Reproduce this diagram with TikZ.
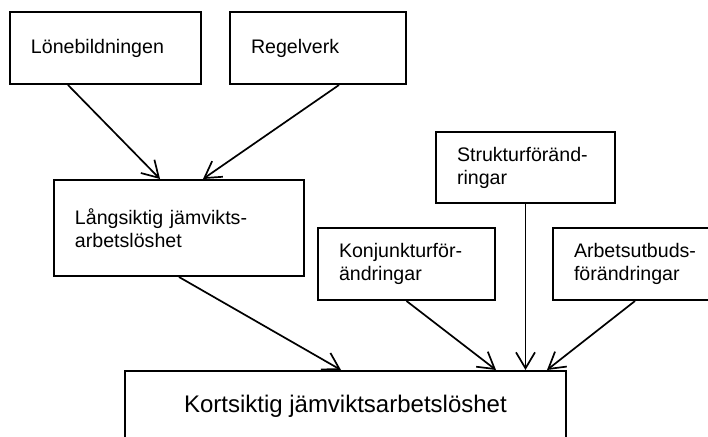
\documentclass[tikz,border=0pt]{standalone}
\usepackage{fontspec}
\setmainfont{Liberation Sans}
\usetikzlibrary{arrows.meta,calc}

\begin{document}
\begin{tikzpicture}[x=0.5pt, y=-0.5pt,
  box/.style={draw, line width=1pt, inner xsep=10.5pt, align=left, minimum height=36pt, font=\fontsize{9.8}{11.5}\selectfont},
  link/.style={-{Straight Barb[length=8pt, width=9.5pt]}, line width=0.85pt}]
\clip (0,0) rectangle (708,437);
\node[box, text width=74.5pt] (Lone) at (105.5,48) {Lönebildningen};
\node[box, text width=67pt] (Regel) at (318,48) {Regelverk};
\node[box, text width=104pt, minimum height=48pt] (Lang) at (179,228) {Långsiktig jämvikts-\\arbetslöshet};
\node[box, text width=68.5pt, minimum height=35.5pt] (Str) at (525.5,167.5) {Strukturföränd-\\ringar};
\node[box, text width=67.5pt] (Konj) at (406.5,264) {Konjunkturför-\\ändringar};
\node[box, text width=67.5pt] (Arb) at (641.5,264) {Arbetsutbuds-\\förändringar};
\node[box, anchor=north west, inner xsep=29.5pt, inner ysep=0pt, text height=20.8pt, text depth=40pt, font=\fontsize{12}{14}\selectfont] (Kort) at (124,370) {Kortsiktig jämviktsarbetslöshet};
\draw[link] ($(Lone.south west)+(59,0)$) -- ($(Lang.north west)+(107,0)$);
\draw[link] ($(Regel.south west)+(110,0)$) -- ($(Lang.north west)+(150,0)$);
\draw[link] (Lang.south) -- ($(Kort.north west)+(217,0)$);
\draw[link] (Konj.south) -- ($(Kort.north west)+(372,0)$);
\draw[link] (Str.south) -- (Str.south |- Kort.north);
\draw[link] ($(Arb.south west)+(83,0)$) -- ($(Kort.north west)+(423,0)$);
\end{tikzpicture}
\end{document}
